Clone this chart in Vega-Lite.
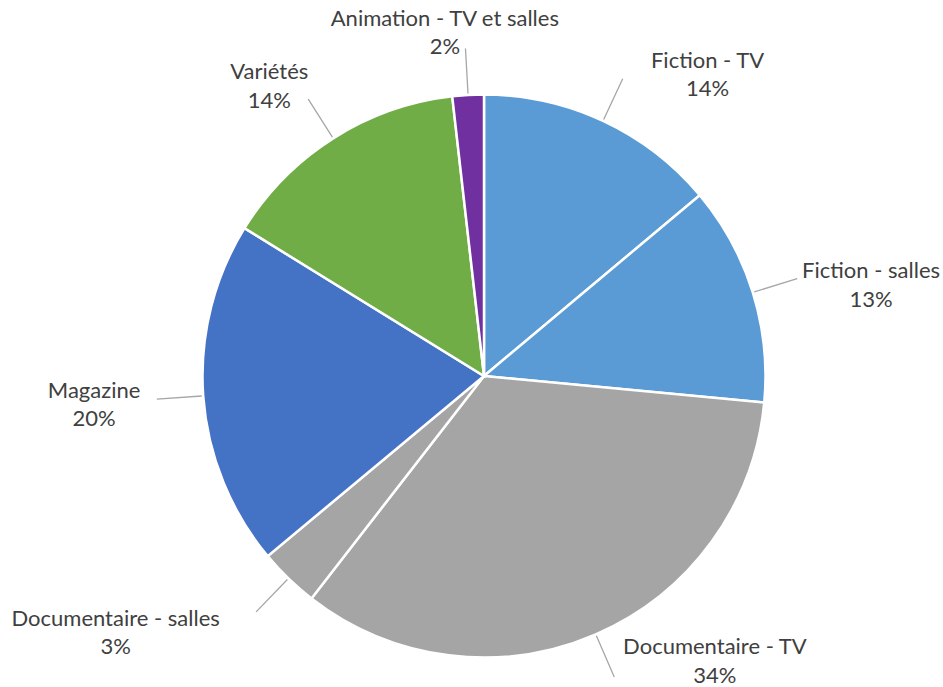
{
  "$schema": "https://vega.github.io/schema/vega-lite/v6.json",
  "autosize": "none",
  "width": 918,
  "height": 622,
  "padding": {"left": 25, "top": 65, "right": 0, "bottom": 0},
  "background": "white",
  "config": {"view": {"stroke": null}},
  "data": {
    "values": [
      {"label": "Fiction - TV", "pct": "14%", "value": 13.9, "ord": 1},
      {"label": "Fiction - salles", "pct": "13%", "value": 12.6, "ord": 2},
      {"label": "Documentaire - TV", "pct": "34%", "value": 34.0, "ord": 3},
      {"label": "Documentaire - salles", "pct": "3%", "value": 3.45, "ord": 4},
      {"label": "Magazine", "pct": "20%", "value": 19.85, "ord": 5},
      {"label": "Variétés", "pct": "14%", "value": 14.4, "ord": 6},
      {"label": "Animation - TV et salles", "pct": "2%", "value": 1.8, "ord": 7}
    ]
  },
  "encoding": {
    "theta": {"field": "value", "type": "quantitative", "stack": true},
    "order": {"field": "ord", "type": "quantitative", "sort": "ascending"}
  },
  "layer": [
    {
      "mark": {"type": "arc", "outerRadius": 281.5, "stroke": "white", "strokeWidth": 2.5},
      "encoding": {
        "color": {
          "field": "label",
          "type": "nominal",
          "legend": null,
          "scale": {
            "domain": ["Fiction - TV", "Fiction - salles", "Documentaire - TV", "Documentaire - salles", "Magazine", "Variétés", "Animation - TV et salles"],
            "range": ["#5B9BD5", "#5B9BD5", "#A5A5A5", "#A5A5A5", "#4472C4", "#70AD47", "#7030A0"]
          }
        }
      }
    },
    {
      "mark": {"type": "arc", "innerRadius": 283, "outerRadius": 328, "padAngle": 3, "filled": false, "fill": null, "stroke": "#A6A6A6", "strokeWidth": 1.3}
    },
    {
      "mark": {
        "type": "text",
        "font": "Lato",
        "fontSize": 22,
        "color": "#404040",
        "align": "center",
        "baseline": "alphabetic",
        "dy": -7,
        "radius": {"expr": "datum.label == 'Fiction - TV' ? 375 : datum.label == 'Fiction - salles' ? 397.6 : datum.label == 'Documentaire - TV' ? 367 : datum.label == 'Documentaire - salles' ? 449 : datum.label == 'Magazine' ? 391 : datum.label == 'Variétés' ? 360.7 : 345.7"},
        "thetaOffset": {"expr": "datum.label == 'Fiction - TV' ? 0.202 : datum.label == 'Fiction - salles' ? 0.071 : datum.label == 'Documentaire - TV' ? -0.272 : datum.label == 'Documentaire - salles' ? 0.194 : datum.label == 'Magazine' ? -0.0035 : datum.label == 'Variétés' ? -0.072 : -0.057"}
      },
      "encoding": {"text": {"field": "label", "type": "nominal"}}
    },
    {
      "mark": {
        "type": "text",
        "font": "Lato",
        "fontSize": 22,
        "color": "#404040",
        "align": "center",
        "baseline": "alphabetic",
        "dy": 21.5,
        "radius": {"expr": "datum.label == 'Fiction - TV' ? 375 : datum.label == 'Fiction - salles' ? 397.6 : datum.label == 'Documentaire - TV' ? 367 : datum.label == 'Documentaire - salles' ? 449 : datum.label == 'Magazine' ? 391 : datum.label == 'Variétés' ? 360.7 : 345.7"},
        "thetaOffset": {"expr": "datum.label == 'Fiction - TV' ? 0.202 : datum.label == 'Fiction - salles' ? 0.071 : datum.label == 'Documentaire - TV' ? -0.272 : datum.label == 'Documentaire - salles' ? 0.194 : datum.label == 'Magazine' ? -0.0035 : datum.label == 'Variétés' ? -0.072 : -0.057"}
      },
      "encoding": {"text": {"field": "pct", "type": "nominal"}}
    }
  ]
}
